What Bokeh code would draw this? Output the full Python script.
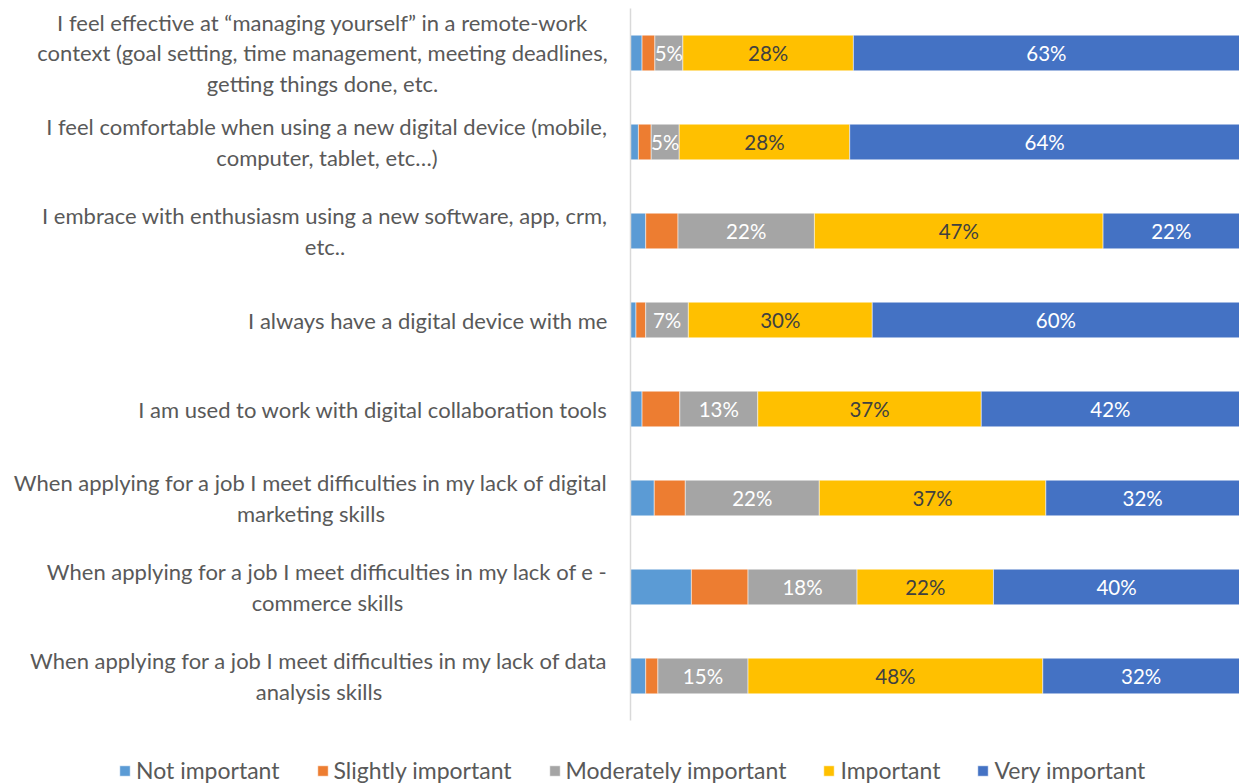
from bokeh.plotting import figure
from bokeh.models import ColumnDataSource, Range1d, Legend, LegendItem
from bokeh.core.properties import value
from bokeh.embed import file_html
from bokeh.resources import INLINE

categories = [
    "I feel effective at \u201cmanaging yourself\u201d in a remote-work\ncontext (goal setting, time management, meeting deadlines,\ngetting things done, etc.",
    "I feel comfortable when using a new digital device (mobile,\ncomputer, tablet, etc\u2026)",
    "I embrace with enthusiasm using a new software, app, crm,\netc..",
    "I always have a digital device with me",
    "I am used to work with digital collaboration tools",
    "When applying for a job I meet difficulties in my lack of digital\nmarketing skills",
    "When applying for a job I meet difficulties in my lack of e -\ncommerce skills",
    "When applying for a job I meet difficulties in my lack of data\nanalysis skills",
]
series_names = ["Not important", "Slightly important", "Moderately important", "Important", "Very important"]
not_important = [1.9, 1.3, 2.5, 0.9, 1.9, 3.9, 10.0, 2.5]
slightly_important = [2.1, 2.1, 5.3, 1.6, 6.2, 5.1, 9.3, 2.0]
moderately_important = [4.6, 4.6, 22.4, 7.0, 12.8, 22.0, 17.9, 14.8]
important = [28.0, 28.0, 47.4, 30.2, 36.7, 37.2, 22.4, 48.4]
very_important = [63.4, 64.0, 22.4, 60.3, 42.4, 31.8, 40.4, 32.3]
colors = ["#5B9BD5", "#ED7D31", "#A5A5A5", "#FFC000", "#4472C4"]
label_colors = [None, None, "#FFFFFF", "#404040", "#FFFFFF"]

# ---- layout constants (pixels) ----
FONT = "Lato"
W, H = 1239, 784
PLOT_LEFT = 630          # pixel where 0 % sits
PLOT_RIGHT = 1239        # pixel where 100 % sits
ROW_TOP = 8              # top of first category band
ROW_H = 89               # height of one category band
LABEL_RIGHT = 607        # right edge of category label blocks
label_block_w = [570, 561, 565, 359, 469, 593, 560, 577]   # rendered widths of label blocks

px_per_pct = (PLOT_RIGHT - PLOT_LEFT) / 100.0
x_start = -PLOT_LEFT / px_per_pct
y_top = (0 - ROW_TOP) / ROW_H - 0.5
y_bottom = (H - ROW_TOP) / ROW_H - 0.5

series = [not_important, slightly_important, moderately_important, important, very_important]
keys = ["s0", "s1", "s2", "s3", "s4"]
idx = list(range(len(categories)))
data = {"y": idx}
for k, s in zip(keys, series):
    data[k] = s
source = ColumnDataSource(data)

p = figure(width=W, height=H, output_backend="svg", toolbar_location=None,
           x_range=Range1d(x_start, 100), y_range=Range1d(y_bottom, y_top),
           min_border=0)
renderers = p.hbar_stack(keys, y="y", height=0.4, color=colors, line_color="white",
                         line_width=0.5, source=source)

# category axis line
p.segment(x0=[0], x1=[0], y0=[-0.5], y1=[len(categories) - 0.5],
          line_color="#D9D9D9", line_width=1.5)

# category labels (blocks right-aligned, lines centred)
cx = [(LABEL_RIGHT - w / 2 - PLOT_LEFT) / px_per_pct for w in label_block_w]
csrc = ColumnDataSource(dict(x=cx, y=idx, t=categories))
p.text(x="x", y="y", text="t", source=csrc, text_align="center", text_baseline="middle",
       text_font=value(FONT), text_font_size="22px", text_color="#595959",
       text_line_height=1.12)

# data labels
lx, ly, lt, lc = [], [], [], []
for i in idx:
    start = 0.0
    for j, s in enumerate(series):
        v = s[i]
        if label_colors[j] is not None:
            lx.append(start + v / 2)
            ly.append(i)
            lt.append(f"{round(v)}%")
            lc.append(label_colors[j])
        start += v
lsrc = ColumnDataSource(dict(x=lx, y=ly, t=lt, c=lc))
p.text(x="x", y="y", text="t", text_color="c", source=lsrc, text_align="center",
       text_baseline="middle", text_font=value(FONT), text_font_size="20.5px")

p.xaxis.visible = False
p.yaxis.visible = False
p.xgrid.visible = False
p.ygrid.visible = False
p.outline_line_color = None

legend = Legend(items=[LegendItem(label=n, renderers=[r]) for n, r in zip(series_names, renderers)],
                orientation="horizontal", location=(118, 0),
                label_text_font=FONT, label_text_font_size="23px", label_text_color="#595959",
                glyph_width=13, glyph_height=13, label_standoff=5, spacing=36,
                border_line_color=None, background_fill_alpha=0, margin=0, padding=0)
p.add_layout(legend, "center")

open("out.html", "w").write(file_html(p, INLINE))
